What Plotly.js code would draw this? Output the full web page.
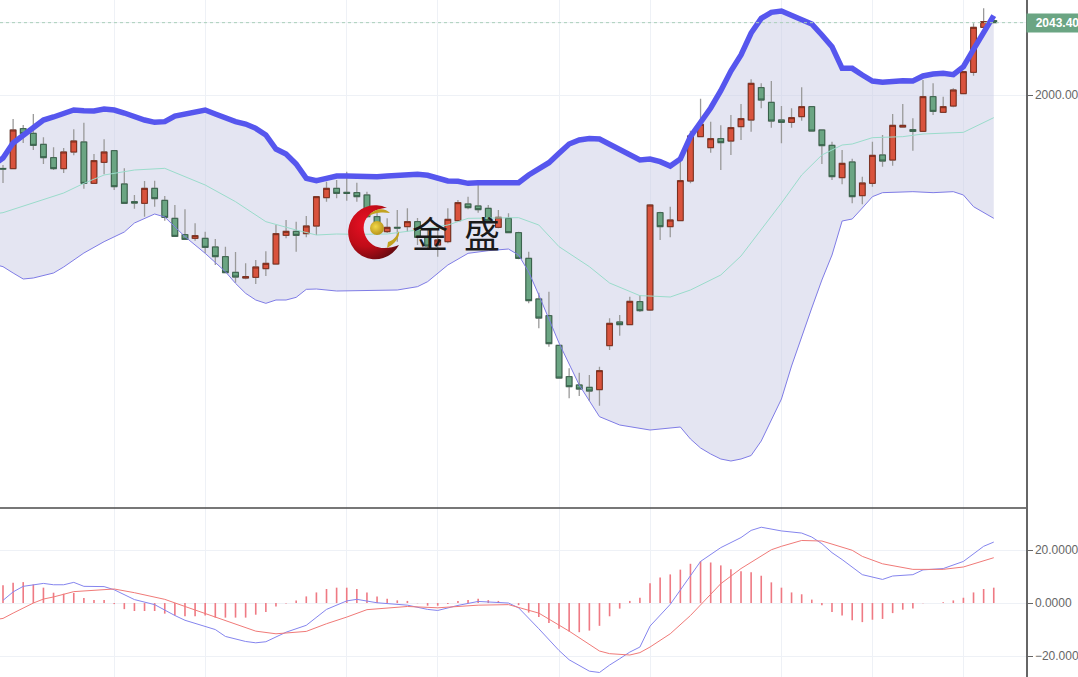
<!DOCTYPE html>
<html>
<head>
<meta charset="utf-8">
<script src="https://cdn.plot.ly/plotly-3.0.1.min.js"></script>
<style>html,body{margin:0;padding:0;background:#fff;overflow:hidden}#chart{width:1078px;height:677px}</style>
</head>
<body>
<div id="chart"></div>
<script>
const opens = [1955.9,1955.8,1979.8,1977,1970.4,1962.4,1955.8,1965.8,1971.8,1947,1959.6,1966.6,1946.6,1936,1935,1944,1936.8,1926,1916.2,1914,1914,1908.8,1903,1893.6,1890.2,1890.6,1895.8,1898.6,1915.8,1918.2,1916.8,1921.4,1938.4,1944,1941.6,1941.4,1940,1927,1918,1920.6,1921,1924,1914.6,1910,1912,1924.6,1934.6,1933.4,1932,1920.6,1926,1917.4,1902,1877.6,1867.6,1849.8,1831,1826,1824.6,1823.2,1849.6,1863.8,1862.2,1876,1871,1929.4,1921,1924.6,1948.4,1975,1968.4,1973.8,1972.4,1981,1985,2004.4,1995.6,1985,1983.6,1987,1993,1979,1969.8,1950.4,1959.8,1939.6,1947,1964,1961,1980.8,1979.2,1978.2,1999,1989.6,1993.4,2000.8,2013.6,2040.6,2044.6];
const highs = [1958,1985.6,1982,1988.6,1974.6,1968.6,1968.2,1979.4,1983.4,1964.6,1973.4,1967,1956,1940,1948.4,1948.6,1939.4,1934,1931.4,1923,1918,1913.6,1909,1905.8,1899,1901,1906.2,1922.2,1925,1924,1927.4,1939,1948,1949,1954,1947.4,1942,1929.2,1926,1931,1932,1926.2,1919,1919,1932,1937,1939,1946,1934,1931,1929,1918,1906,1881.4,1882,1850,1836,1833.4,1832,1837,1866,1868,1879,1880,1934.6,1930,1933,1961,1978.6,1997.8,1984,1981.8,1988,1994.6,2009.4,2007,2008.4,1993.4,1992,2004.6,1993.4,1979.4,1972,1967,1961.8,1951,1972,1976,1988.6,1994.6,1986,2009,2007,1999,2004,2014.4,2043,2052,2045];
const lows = [1947.2,1955.8,1971.2,1967,1958.6,1955,1953.2,1963.8,1943.8,1947,1952.4,1943,1934.6,1931.8,1927,1933,1924.6,1915,1913,1912.6,1905,1898,1893,1887.4,1889.4,1886.6,1891.4,1898.6,1914,1906,1914.6,1916,1936,1938,1936.6,1936,1926.2,1919,1917.2,1912,1918,1910,1908,1903,1911,1924,1931.4,1929.4,1924,1920,1917,1901.4,1875,1860,1849,1830,1818,1819.4,1816.6,1813.6,1847,1855.6,1862,1869.8,1870.4,1913,1914.6,1924.6,1947,1974.6,1965.4,1955,1964,1973,1978,1992,1980.4,1971,1980.4,1984.6,1978.4,1958.6,1949,1946.4,1935,1934.4,1945,1957,1957.6,1980.8,1966.6,1978,1988,1989.4,1992.6,2000.6,2011.6,2040.6,2043];
const closes = [1955.6,1979,1976.8,1969.8,1962.4,1955.8,1965.8,1972.4,1947,1960.6,1965.8,1945,1935,1935.2,1944,1937.8,1926.6,1915.2,1913.4,1915.6,1908.6,1903,1893.4,1890.8,1891,1896.8,1899,1916.8,1918.2,1915.8,1921.4,1939,1944,1941,1941,1939,1927,1921.4,1920.6,1920.2,1924,1914.6,1909.4,1913,1925.4,1935.4,1932.4,1931.2,1924.6,1926.6,1917.4,1902,1876.6,1866.2,1850.8,1830.2,1825,1823.6,1822.4,1834.6,1863,1862.2,1876.2,1870.6,1934,1921,1925,1948.6,1975.4,1982.4,1973.8,1971.4,1980.4,1985.8,2007,1997,1984.4,1983.6,1986.4,1993,1978.4,1969.6,1951,1959,1939,1947.2,1963.8,1960.4,1981.8,1981.8,1978.2,1999,1990.2,1993,2003,2014,2040.6,2044,2043.4];

const upperIdx = [-1,0,1,2,3,4,5,6,7,8,9,10,11,12,13,14,15,16,17,18,19,20,21,22,23,24,25,26,27,28,29,30,31,32,33,34,35,36,37,38,39,40,41,42,43,44,45,46,47,48,49,50,51,52,53,54,55,56,57,58,59,60,61,62,63,64,65,66,67,68,69,70,71,72,73,74,75,76,77,78,79,80,81,82,83,84,85,86,87,88,89,90,91,92,93,94,95,96,97,98];
const upperBand = [1958,1962.2,1971.2,1976,1980.8,1985,1986.8,1989.2,1991,1990.6,1990.4,1991.6,1991,1989.2,1986.8,1985,1983.6,1984,1987.4,1988.8,1990,1991,1988.6,1986,1984,1982.6,1980,1976,1967.6,1964.6,1958.6,1950,1948.6,1950,1951.4,1951.4,1951,1951,1951,1951.4,1952,1952.4,1952.4,1951.8,1950.4,1948.4,1948.2,1947,1947.4,1947.4,1947.4,1947.4,1947.4,1952,1956,1959.4,1965,1970.6,1973,1973.9,1973.6,1970.6,1967,1964,1961,1961.6,1960,1957.4,1961.6,1975,1983.2,1992.2,2002.6,2014.4,2024,2037.2,2046,2049.6,2050.4,2048,2045.4,2042.6,2036,2029,2016,2016,2012,2008.4,2007.6,2008.4,2008.6,2008.4,2011.4,2012.6,2013,2012.2,2017,2027.4,2038,2047.6];

const middleIdx = [-1,0,6,8,10,13,16,20,23,26,29,31,33,35,38,41,44,46,51,53,55,58,60,63,64,66,68,71,73,75,77,79,81,83,84,86,89,91,95,98];
const middleBand = [1928.6,1929.4,1941.2,1947,1952,1955,1956,1946,1936,1924,1919,1916,1916.6,1916.4,1916.6,1919,1922,1926,1926.4,1922,1909,1897,1887.2,1879.6,1879.4,1878.8,1883,1892,1903.4,1919,1935.2,1952,1964,1970,1970.6,1974.4,1975,1976.6,1977.6,1986.4];

const lowerIdx = [-1,0,1,2,3,5,6,8,10,12,13,15,16,18,20,22,23,24,25,26,27,28,29,30,31,33,39,41,42,44,46,48,50,51,52,53,55,57,59,61,64,67,68,69,70,71,72,73,74,75,76,77,78,79,80,81,82,83,84,85,86,87,90,92,94,95,96,98];
const lowerBand = [1898.6,1897,1893.2,1889.6,1890.2,1893.2,1896.8,1905.2,1912,1917.8,1923.2,1928.6,1926.8,1915,1905,1894,1887,1881,1877,1875,1877,1877,1878.6,1883.4,1883.6,1882.4,1883,1885,1888,1898,1905,1906.6,1907.6,1904,1893.8,1880,1851.2,1826,1807,1802,1799,1800.8,1793.6,1788.2,1784.6,1781.6,1780.4,1781.6,1783.7,1792.4,1805,1817.6,1837.4,1855.4,1872.2,1889,1904,1924.4,1925.6,1932.2,1939,1941.4,1942,1941.4,1942,1940,1933,1926];

const histogram = [6.7,7.7,7.9,7,5.8,3.9,3.5,3.8,1.9,1.1,1.1,-0.4,-2.3,-3,-3,-3,-4,-4.7,-5,-5,-4.7,-5.5,-5.5,-5.5,-5.5,-4.4,-3.4,-1.3,-0.2,1,2.5,4,5.3,5.8,5.8,5.3,4,2.5,1.6,1,0.8,-0.1,-1,-1,-0.4,0.8,1.1,1.6,1.1,0.8,0,-0.8,-3.6,-5.3,-7.5,-9.7,-10.7,-11,-10.4,-8.6,-5,-2.1,0.8,2,7.5,9.6,10.8,12.6,14.8,15.8,15.3,14.2,12.7,12,11.6,10.3,7.8,5.8,4,3.3,1.3,-0.8,-3.4,-4.7,-6.5,-7.2,-6.3,-6,-3.8,-2.5,-2.1,-0.1,0,0.3,1,2,4,5.3,5.8];

const macdIdx = [0,1,2,3,4,5,6,7,8,10,11,13,15,17,18,21,22,24,25,26,28,30,32,34,35,37,39,40,42,43,45,47,50,51,53,55,56,58,59,60,61,62,63,64,66,67,68,69,71,73,74,75,77,79,80,81,82,83,85,87,88,90,91,93,95,97,98];
const macdLine = [1,4.2,6.3,6.9,7.4,6.9,6.9,7.8,6.3,6.2,5,1.3,-0.6,-4.7,-6.5,-10,-12.6,-14.5,-15,-14.6,-11,-8.4,-2.4,0.8,1.4,0.1,-0.6,-0.8,-2.4,-2.8,-0.9,0.6,0,-1.8,-9.7,-17.9,-21.4,-25.7,-26.2,-23.4,-21,-18.5,-16.6,-8.7,-0.5,4.8,10.4,15.7,20.9,24.7,27.4,28.6,27.2,26.4,24.9,22.4,19,16.4,10.7,8.9,10.2,10.7,12.5,13,15.7,21.4,23];

const signalIdx = [-1,0,1,3,4,5,7,9,11,13,16,18,21,23,25,27,30,32,34,36,40,43,47,50,53,56,59,60,62,63,64,66,68,71,73,76,77,79,81,84,85,87,90,93,95,98];
const signalLine = [-6.4,-5.8,-3.8,0,1.5,2.3,4.3,4.8,5.3,3.9,1.4,-1.3,-5.3,-8,-10.6,-11.6,-10.7,-7.8,-5.3,-2.5,-1.3,-1.8,-0.8,-0.6,-3.8,-10.6,-18.1,-19.1,-19.6,-18.7,-16.6,-11.6,-4.7,7.3,13,20.1,21.4,23.6,23.4,19.9,17.6,14.8,12.7,12.7,13.6,17.1];

const priceTicks = [2000, 2043.4];
const priceTickText = ['2000.00', ''];
const macdTicks = [20, 0, -20];
const macdTickText = ['20.0000', '0.0000', '\u221220.0000'];
const gridIdx = [11, 20, 34, 43, 55, 64, 77, 86, 95];
const lastPrice = 2043.4;

const idx = closes.map((_, i) => i);
const xRange = [-0.297, 101.19];
const priceRange = [1752.2, 2057];
const macdRange = [-27.9, 35.85];
const split = 1 - 508 / 677;

const RED = '#d9533d', GREEN = '#6ba583';

const logoSvg = '<svg xmlns="http://www.w3.org/2000/svg" width="56" height="56" viewBox="0 0 56 56">' +
 '<defs><radialGradient id="r" cx="0.35" cy="0.35" r="0.75"><stop offset="0" stop-color="#ea1024"/><stop offset="0.55" stop-color="#c00c18"/><stop offset="1" stop-color="#640a10"/></radialGradient>' +
 '<radialGradient id="g" cx="0.4" cy="0.4" r="0.7"><stop offset="0" stop-color="#f2d84a"/><stop offset="1" stop-color="#b08a12"/></radialGradient></defs>' +
 '<path d="M42 4 A27 27 0 1 0 54 41 C46 44 36 46 28 41 C18 34 15 20 24 11 C29 6 36 4 42 4 Z" fill="url(#r)"/>' +
 '<circle cx="32" cy="24" r="7" fill="url(#g)"/>' +
 '<path d="M23 13 C28 4 40 3 45 9 C38 8 29 8 23 13 Z" fill="#c2a21e"/>' +
 '<path d="M42 44 C50 40 55 33 54 27 C51 34 47 37 43 38 Z" fill="#c2a21e"/>' +
 '</svg>';

const data = [
  { type:'scatter', mode:'lines', x: upperIdx.concat(lowerIdx.slice().reverse()), y: upperBand.concat(lowerBand.slice().reverse()),
    fill:'toself', fillcolor:'rgba(198,200,228,0.47)', line:{width:0}, xaxis:'x', yaxis:'y', hoverinfo:'skip' },
  { type:'candlestick', x: idx, open: opens, high: highs, low: lows, close: closes, xaxis:'x3', yaxis:'y3', whiskerwidth:0,
    increasing:{line:{color:'#9a9a9a',width:1.3}, fillcolor:RED}, decreasing:{line:{color:'#9a9a9a',width:1.3}, fillcolor:GREEN}, hoverinfo:'skip' },
  { type:'candlestick', x: idx, open: opens, close: closes,
    high: opens.map((o,i)=>Math.max(o,closes[i])), low: opens.map((o,i)=>Math.min(o,closes[i])),
    xaxis:'x3', yaxis:'y3', whiskerwidth:0,
    increasing:{line:{color:'#7a2c1c',width:1}, fillcolor:RED}, decreasing:{line:{color:'#37604a',width:1}, fillcolor:GREEN}, hoverinfo:'skip' },
  { type:'scatter', mode:'lines', x: middleIdx, y: middleBand, line:{color:'#9adccb',width:1}, xaxis:'x3', yaxis:'y3', hoverinfo:'skip' },
  { type:'scatter', mode:'lines', x: lowerIdx, y: lowerBand, line:{color:'#7f7ce6',width:1}, xaxis:'x3', yaxis:'y3', hoverinfo:'skip' },
  { type:'scatter', mode:'lines', x: upperIdx, y: upperBand, line:{color:'#5656ee',width:5.5}, xaxis:'x3', yaxis:'y3', hoverinfo:'skip' },
  { type:'bar', x: idx, y: histogram, width:0.16, marker:{color:'#ef7a84',line:{width:0}}, xaxis:'x2', yaxis:'y2', hoverinfo:'skip' },
  { type:'scatter', mode:'lines', x: macdIdx, y: macdLine, line:{color:'#8585ee',width:1}, xaxis:'x2', yaxis:'y2', hoverinfo:'skip' },
  { type:'scatter', mode:'lines', x: signalIdx, y: signalLine, line:{color:'#f07a78',width:1}, xaxis:'x2', yaxis:'y2', hoverinfo:'skip' }
];

const GRID = '#eef1f6';
const axisFont = {family:'"Liberation Sans", Arial, sans-serif', size:12, color:'#666'};

const layout = {
  width:1078, height:677, showlegend:false, paper_bgcolor:'#fff', plot_bgcolor:'#fff',
  boxmode:'overlay', boxgap:0.2,
  margin:{l:0,r:52,t:0,b:0,pad:0},
  xaxis:{range:xRange, domain:[0,1], anchor:'y', tickvals:gridIdx, showticklabels:false, ticks:'', showgrid:true, gridcolor:GRID, gridwidth:1, zeroline:false, rangeslider:{visible:false}},
  yaxis:{range:priceRange, domain:[split,1], anchor:'x', side:'right', tickvals:priceTicks, ticktext:priceTickText, ticks:'outside', ticklen:5, tickcolor:'#666', tickfont:axisFont, showgrid:true, gridcolor:GRID, zeroline:false, showline:true, linecolor:'#666', linewidth:1.5},
  xaxis3:{range:xRange, overlaying:'x', anchor:'y3', visible:false, rangeslider:{visible:false}},
  yaxis3:{range:priceRange, overlaying:'y', anchor:'x3', visible:false},
  xaxis2:{range:xRange, domain:[0,1], anchor:'y2', tickvals:gridIdx, showticklabels:false, ticks:'', showgrid:true, gridcolor:GRID, gridwidth:1, zeroline:false},
  yaxis2:{range:macdRange, domain:[0,split], anchor:'x2', side:'right', tickvals:macdTicks, ticktext:macdTickText, ticks:'outside', ticklen:5, tickcolor:'#666', tickfont:axisFont, showgrid:true, gridcolor:GRID, zeroline:false, showline:true, linecolor:'#666', linewidth:1.5},
  shapes:[
    {type:'line', xref:'paper', x0:0, x1:1, yref:'y', y0:lastPrice, y1:lastPrice, line:{color:'#a9cfb9',width:1,dash:'dot'}, layer:'above'},
    {type:'line', xref:'paper', x0:0, x1:1, yref:'paper', y0:split, y1:split, line:{color:'#4a4a4a',width:1.5}, layer:'above'}
  ],
  images:[{source:'data:image/svg+xml;charset=utf-8,'+encodeURIComponent(logoSvg), xref:'paper', yref:'paper',
    x:345/1026, y:1-204/677, sizex:56/1026, sizey:56/677, xanchor:'left', yanchor:'top', sizing:'stretch', layer:'above'}],
  annotations:[
    {xref:'paper', yref:'y', x:1, y:lastPrice, xanchor:'left', yanchor:'middle', xshift:0, text:'<b>\u00a0\u00a02043.40\u00a0\u00a0</b>', showarrow:false,
     bgcolor:GREEN, font:{family:'"Liberation Sans", Arial, sans-serif', size:12, color:'#fff'}, borderpad:2},
    {xref:'paper', yref:'paper', x:430/1026, y:1-232/677, text:'金', showarrow:false, xanchor:'center', yanchor:'middle', font:{family:'"Noto Sans CJK SC", sans-serif', size:36, color:'#1a1a1a'}},
    {xref:'paper', yref:'paper', x:482/1026, y:1-232/677, text:'盛', showarrow:false, xanchor:'center', yanchor:'middle', font:{family:'"Noto Sans CJK SC", sans-serif', size:36, color:'#1a1a1a'}}
  ]
};

Plotly.newPlot('chart', data, layout, {displayModeBar:false, staticPlot:true});
</script>
</body>
</html>
